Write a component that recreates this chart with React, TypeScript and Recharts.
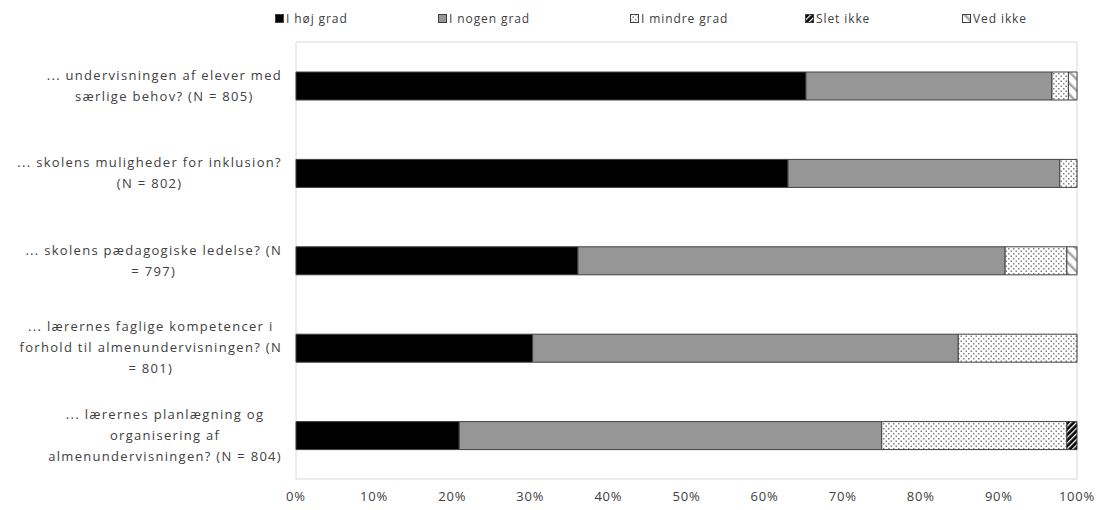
import React from "react";
import { BarChart, Bar, XAxis, YAxis, ReferenceArea } from "recharts";

const categories = [
  "... undervisningen af elever med\nsærlige behov? (N = 805)",
  "... skolens muligheder for inklusion?\n(N = 802)",
  "... skolens pædagogiske ledelse? (N\n= 797)",
  "... lærernes faglige kompetencer i\nforhold til almenundervisningen? (N\n= 801)",
  "... lærernes planlægning og\norganisering af\nalmenundervisningen? (N = 804)",
];

const hojGrad = [65.3, 63.0, 36.1, 30.3, 20.9];
const nogenGrad = [31.5, 34.8, 54.7, 54.5, 54.1];
const mindreGrad = [2.1, 2.2, 7.9, 15.2, 23.7];
const sletIkke = [0, 0, 0, 0, 1.3];
const vedIkke = [1.1, 0, 1.3, 0, 0];

const xTicks = [0, 10, 20, 30, 40, 50, 60, 70, 80, 90, 100];

const seriesNames = ["I høj grad", "I nogen grad", "I mindre grad", "Slet ikke", "Ved ikke"];

const data = categories.map((name, i) => ({
  name,
  hoj: hojGrad[i],
  nogen: nogenGrad[i],
  mindre: mindreGrad[i],
  slet: sletIkke[i],
  ved: vedIkke[i],
}));

const FONT = "'Open Sans', 'DejaVu Sans', sans-serif";
const EDGE = "#404040";

const fills = ["#000000", "#969696", "url(#dots)", "url(#darkHatch)", "url(#lightHatch)"];
// legend square x positions (chart coords)
const legendX = [267, 430, 622, 797, 954];

const Patterns = () => (
  <svg width={0} height={0} style={{ position: "absolute" }}>
    <defs>
      <pattern id="dots" width={5} height={5} patternUnits="userSpaceOnUse">
        <rect width={5} height={5} fill="#ffffff" />
        <rect x={0} y={0} width={1.5} height={1.5} fill="#808080" />
        <rect x={2.5} y={2.5} width={1.5} height={1.5} fill="#808080" />
      </pattern>
      <pattern
        id="lightHatch"
        width={8}
        height={8}
        patternUnits="userSpaceOnUse"
        patternTransform="rotate(-45)"
      >
        <rect width={8} height={8} fill="#ffffff" />
        <rect x={0} y={0} width={2.5} height={8} fill="#a6a6a6" />
      </pattern>
      <pattern
        id="darkHatch"
        width={4}
        height={4}
        patternUnits="userSpaceOnUse"
        patternTransform="rotate(45)"
      >
        <rect width={4} height={4} fill="#000000" />
        <rect x={0} y={0} width={1.3} height={4} fill="#ffffff" />
      </pattern>
    </defs>
  </svg>
);

const CategoryTick = (props: any) => {
  const { x, y, payload } = props;
  const lines: string[] = String(payload.value).split("\n");
  const w = 284;
  const h = 90;
  return (
    <foreignObject x={x - 14 - w} y={y - h / 2} width={w} height={h}>
      <div
        style={{
          width: w,
          height: h,
          display: "flex",
          alignItems: "center",
          justifyContent: "flex-end",
        }}
      >
        <div
          style={{
            textAlign: "center",
            fontFamily: FONT,
            fontSize: 13,
            lineHeight: "21px",
            color: "#404040",
            letterSpacing: 1.3,
            whiteSpace: "nowrap",
          }}
        >
          {lines.map((l, i) => (
            <div key={i}>{l}</div>
          ))}
        </div>
      </div>
    </foreignObject>
  );
};

const Legend = () => (
  <div style={{ position: "absolute", left: 0, top: 3, height: 20, width: 1098 }}>
    {seriesNames.map((n, i) => (
      <div
        key={n}
        style={{
          position: "absolute",
          left: legendX[i],
          top: 0,
          display: "flex",
          alignItems: "center",
          fontFamily: FONT,
          fontSize: 12,
          letterSpacing: 0.9,
          color: "#404040",
          height: 14,
        }}
      >
        <svg width={9} height={9} style={{ marginRight: 2 }}>
          <rect x={0.5} y={0.5} width={8} height={8} fill={fills[i]} stroke={EDGE} strokeWidth={1} />
        </svg>
        <span>{n}</span>
      </div>
    ))}
  </div>
);

const App: React.FC = () => {
  const keys = ["hoj", "nogen", "mindre", "slet", "ved"];
  return (
    <div style={{ position: "relative", width: 1098, height: 502, background: "#ffffff" }}>
      <Patterns />
      <Legend />
      <BarChart
        layout="vertical"
        width={1098}
        height={502}
        data={data}
        margin={{ top: 34, right: 29, bottom: 7, left: 0 }}
        barSize={28}
      >
        <ReferenceArea x1={0} x2={100} fill="none" stroke="#d9d9d9" strokeWidth={1} />
        <XAxis
          type="number"
          domain={[0, 100]}
          ticks={xTicks}
          tickFormatter={(v) => `${v}%`}
          axisLine={false}
          tickLine={false}
          tickSize={0}
          tickMargin={13}
          height={24}
          interval={0}
          tick={{ fontFamily: FONT, fontSize: 13, fill: "#404040", letterSpacing: 0.8 }}
        />
        <YAxis
          type="category"
          dataKey="name"
          width={288}
          axisLine={false}
          tickLine={false}
          tickSize={0}
          tickMargin={0}
          interval={0}
          tick={<CategoryTick />}
        />
        {keys.map((k, i) => (
          <Bar
            key={k}
            dataKey={k}
            name={seriesNames[i]}
            stackId="a"
            fill={fills[i]}
            stroke={EDGE}
            strokeWidth={1}
            isAnimationActive={false}
          />
        ))}
      </BarChart>
    </div>
  );
};

export default App;
